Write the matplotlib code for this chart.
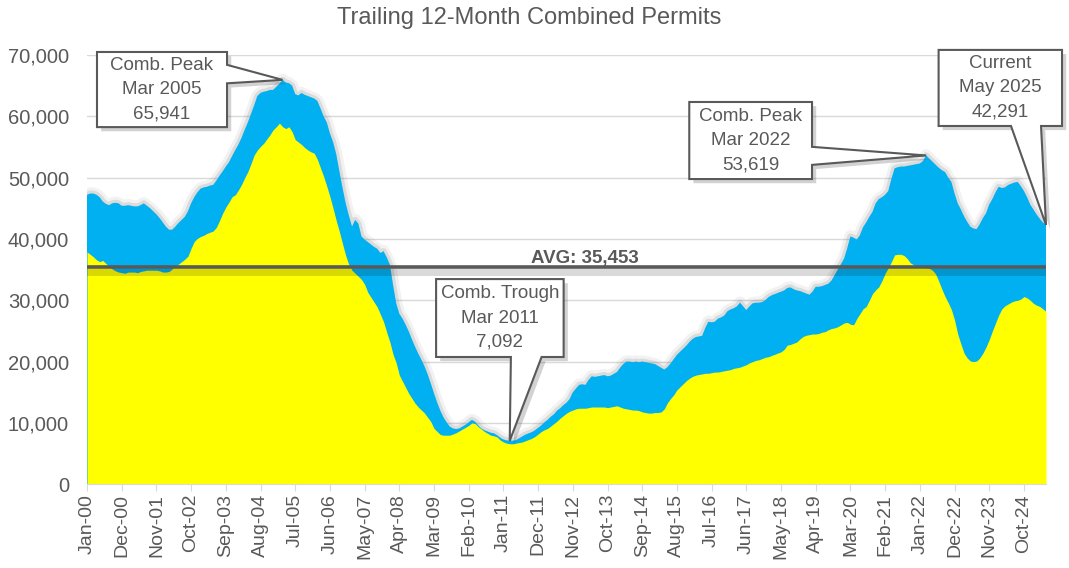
import matplotlib
matplotlib.use('Agg')
import matplotlib.pyplot as plt
import matplotlib.patheffects as pe
from matplotlib.patches import Polygon
from matplotlib.ticker import FuncFormatter
import numpy as np

plt.rcParams['font.family'] = ['Liberation Sans', 'DejaVu Sans']

# Trailing 12-month permits, thousands, monthly Jan-2000 .. May-2025
# combined (blue) permits, one row per year
total_k = [
    47.2, 47.4, 47.4, 47.2, 46.8, 46.1, 45.7, 45.5, 45.8, 45.9, 45.8, 45.4,
    45.4, 45.5, 45.4, 45.3, 45.3, 45.5, 45.8, 45.4, 45.0, 44.5, 44.0, 43.4,
    42.7, 42.0, 41.5, 41.5, 42.0, 42.6, 43.1, 43.6, 44.5, 45.8, 46.8, 47.6,
    48.2, 48.4, 48.5, 48.7, 48.8, 49.5, 50.3, 51.0, 51.8, 52.5, 53.5, 54.5,
    55.4, 56.5, 57.8, 59.0, 60.4, 61.8, 63.3, 63.8, 64.0, 64.1, 64.3, 64.3,
    64.8, 65.3, 65.941, 65.5, 65.4, 65.0, 63.6, 63.4, 63.8, 63.5, 63.3, 63.1,
    62.9, 62.5, 61.3, 60.0, 59.0, 57.2, 55.8, 53.8, 51.0, 48.3, 45.8, 43.8,
    42.0, 43.1, 42.5, 40.4, 39.9, 39.5, 39.1, 38.7, 38.4, 37.7, 38.0, 37.0,
    35.8, 32.5, 29.5, 27.8, 27.0, 26.0, 24.9, 23.6, 22.4, 21.3, 20.3, 19.2,
    17.9, 16.4, 14.8, 13.3, 12.0, 10.9, 10.1, 9.4, 9.1, 9.0, 9.1, 9.4,
    9.7, 10.1, 10.5, 10.2, 9.6, 9.1, 8.8, 8.6, 8.4, 8.3, 8.0, 7.6,
    7.3, 7.15, 7.092, 7.1, 7.2, 7.5, 7.8, 8.1, 8.3, 8.5, 8.8, 9.2,
    9.6, 10.1, 10.5, 11.0, 11.4, 12.0, 12.4, 12.9, 13.3, 13.9, 15.0, 15.6,
    16.2, 16.3, 16.2, 17.0, 17.6, 17.5, 17.6, 17.7, 17.8, 17.6, 17.7, 18.0,
    18.3, 19.0, 19.6, 20.0, 20.0, 19.9, 20.0, 19.9, 20.0, 19.9, 19.8, 19.7,
    19.6, 19.3, 19.0, 18.7, 19.1, 19.7, 20.4, 21.1, 21.6, 22.1, 22.6, 23.2,
    23.7, 24.0, 24.1, 24.2, 25.5, 26.5, 26.4, 26.5, 27.0, 27.2, 27.5, 28.2,
    28.5, 28.7, 29.0, 29.6, 29.0, 28.4, 29.0, 29.5, 29.6, 29.6, 29.7, 30.0,
    30.5, 30.8, 31.0, 31.2, 31.4, 31.6, 32.0, 32.1, 31.8, 31.6, 31.5, 31.3,
    31.1, 30.9, 31.4, 32.2, 32.2, 32.3, 32.5, 32.7, 33.2, 34.1, 35.0, 35.9,
    36.8, 38.5, 40.4, 40.2, 39.9, 40.6, 41.9, 42.7, 43.6, 44.4, 45.8, 46.5,
    46.8, 47.2, 47.8, 49.8, 51.5, 51.7, 51.8, 51.8, 51.9, 52.0, 52.1, 52.2,
    52.3, 52.7, 53.619, 53.1, 52.6, 52.1, 51.6, 51.2, 50.9, 50.0, 49.3, 47.4,
    45.8, 44.8, 43.7, 42.8, 42.0, 41.7, 41.6, 42.4, 43.4, 44.2, 45.6, 46.5,
    47.6, 48.5, 48.3, 48.4, 48.8, 49.0, 49.2, 49.3, 48.6, 47.8, 46.8, 45.6,
    44.8, 44.0, 43.3, 42.7, 42.291,
]

# yellow series drawn in front
single_k = [
    37.9, 37.5, 37.1, 36.6, 36.3, 36.5, 36.0, 35.5, 35.1, 34.8, 34.6, 34.5,
    34.4, 34.6, 34.6, 34.6, 34.5, 34.7, 34.8, 34.9, 34.9, 34.9, 34.9, 34.8,
    34.6, 34.6, 34.7, 35.1, 35.6, 35.9, 36.3, 36.7, 37.2, 38.5, 39.6, 40.1,
    40.4, 40.6, 40.9, 41.1, 41.3, 41.9, 43.0, 44.2, 45.2, 46.0, 46.9, 47.2,
    48.0, 48.9, 50.0, 51.0, 52.3, 53.7, 54.5, 55.1, 55.6, 56.3, 57.0, 57.8,
    58.3, 58.9, 58.3, 58.0, 58.3, 57.5, 56.2, 55.8, 55.4, 54.9, 54.5, 54.2,
    54.0, 53.0, 51.6, 50.2, 48.6, 46.9, 45.0, 43.0, 41.2, 39.2, 37.3, 35.8,
    34.9, 34.4, 33.9, 33.4, 32.6, 31.3, 30.5, 29.7, 28.9, 27.7, 26.5, 24.8,
    23.2, 21.2, 19.8, 17.8, 16.8, 15.8, 14.8, 14.0, 13.2, 12.6, 12.1, 11.6,
    10.9, 10.2, 9.1, 8.6, 8.1, 8.0, 8.0, 8.0, 8.2, 8.4, 8.7, 9.0,
    9.3, 9.6, 10.0, 9.9, 9.4, 9.0, 8.6, 8.3, 8.0, 7.9, 7.7, 7.2,
    6.9, 6.7, 6.6, 6.6, 6.7, 6.8, 6.9, 7.1, 7.3, 7.5, 7.8, 8.2,
    8.6, 8.9, 9.1, 9.5, 9.9, 10.3, 10.8, 11.2, 11.6, 11.9, 12.1, 12.3,
    12.4, 12.4, 12.4, 12.5, 12.6, 12.6, 12.6, 12.6, 12.6, 12.5, 12.6, 12.7,
    12.8, 12.6, 12.4, 12.3, 12.2, 12.1, 12.1, 12.0, 11.8, 11.7, 11.6, 11.6,
    11.7, 11.7, 11.8, 12.3, 13.3, 14.0, 14.6, 15.4, 15.9, 16.4, 16.9, 17.3,
    17.6, 17.8, 17.9, 18.0, 18.1, 18.1, 18.2, 18.3, 18.3, 18.4, 18.5, 18.6,
    18.7, 18.9, 19.0, 19.1, 19.3, 19.5, 19.8, 20.0, 20.2, 20.3, 20.5, 20.7,
    20.8, 21.0, 21.2, 21.4, 21.6, 22.0, 22.7, 22.8, 23.0, 23.2, 23.7, 24.1,
    24.3, 24.4, 24.5, 24.5, 24.6, 24.8, 24.9, 25.2, 25.4, 25.5, 25.7, 26.0,
    26.3, 26.4, 26.1, 26.0, 27.0, 27.8, 28.6, 29.0, 30.0, 31.1, 31.7, 32.2,
    33.2, 34.4, 35.3, 36.3, 37.4, 37.5, 37.5, 37.3, 36.8, 36.1, 35.8, 35.6,
    35.5, 35.4, 35.3, 35.2, 34.9, 34.3, 33.1, 31.8, 30.6, 29.6, 28.5, 26.8,
    24.5, 22.9, 21.4, 20.6, 20.1, 20.0, 20.1, 20.6, 21.4, 22.4, 23.6, 25.0,
    26.3, 27.6, 28.6, 29.1, 29.4, 29.7, 29.9, 30.0, 30.2, 30.6, 30.4, 30.0,
    29.5, 29.2, 29.0, 28.6, 28.2,
]

tick_labels = ['Jan-00', 'Dec-00', 'Nov-01', 'Oct-02', 'Sep-03', 'Aug-04',
               'Jul-05', 'Jun-06', 'May-07', 'Apr-08', 'Mar-09', 'Feb-10',
               'Jan-11', 'Dec-11', 'Nov-12', 'Oct-13', 'Sep-14', 'Aug-15',
               'Jul-16', 'Jun-17', 'May-18', 'Apr-19', 'Mar-20', 'Feb-21',
               'Jan-22', 'Dec-22', 'Nov-23', 'Oct-24']

avg_value = 35453

# callouts: heading, month text, month index
callout_heads = ['Comb. Peak', 'Comb. Trough', 'Comb. Peak', 'Current']
callout_months = ['Mar 2005', 'Mar 2011', 'Mar 2022', 'May 2025']
callout_index = [62, 134, 266, 304]

# box layout in axes fraction: (x0, y0, x1, y1), pointer side, pointer base
callout_box = [(0.0104, 0.832, 0.146, 1.007),
               (0.364, 0.2965, 0.497, 0.478),
               (0.628, 0.711, 0.756, 0.8905),
               (0.888, 0.8346, 1.0167, 1.0118)]
callout_side = ['right', 'bottom', 'right', 'bottom']
callout_base = [(0.977, 0.934), (0.442, 0.474), (0.786, 0.744), (0.9635, 0.9948)]

GREY = '#595959'
LIGHT = '#d9d9d9'

months = np.arange(len(total_k))
total = np.array(total_k) * 1000
single = np.array(single_k) * 1000


def callout_outline(box, side, base, tip):
    x0, y0, x1, y1 = box
    b1, b2 = base
    if side == 'right':
        return [(x0, y1), (x1, y1), (x1, b1), tip, (x1, b2), (x1, y0), (x0, y0)]
    return [(x0, y1), (x1, y1), (x1, y0), (b2, y0), tip, (b1, y0), (x0, y0)]


fig = plt.figure(figsize=(10.69, 5.68), dpi=100)
ax = fig.add_axes([0.0814, 0.1474, 0.8971, 0.7558])
ax.set_xlim(0, len(months) - 1)
ax.set_ylim(0, 70000)

# blue area with a soft halo like the excel shadow
blue = ax.fill_between(months, 0, total, color='#00B0F0', lw=0, zorder=2)
blue.set_path_effects([pe.Stroke(linewidth=9, foreground='#808080', alpha=0.10),
                       pe.Stroke(linewidth=4.5, foreground='#808080', alpha=0.20),
                       pe.Normal()])
ax.fill_between(months, 0, single, color='#FFFF00', lw=0, zorder=3)

# average line
ax.axhline(avg_value, color=GREY, lw=2.6, zorder=5,
           path_effects=[pe.SimpleLineShadow(offset=(0, -3.5), shadow_color='k',
                                             alpha=0.15, linewidth=5),
                         pe.Normal()])
ax.text(0.519, avg_value + 650, f'AVG: {avg_value:,}', transform=ax.get_yaxis_transform(),
        ha='center', va='baseline', fontsize=13.5, fontweight='bold', color=GREY, zorder=6)

data_to_axes = ax.transData + ax.transAxes.inverted()
for head, mon, i, box, side, base in zip(callout_heads, callout_months, callout_index,
                                         callout_box, callout_side, callout_base):
    tip = tuple(data_to_axes.transform((months[i], total[i])))
    shape = Polygon(callout_outline(box, side, base, tip), closed=True, transform=ax.transAxes,
                    fc='white', ec=GREY, lw=1.5, clip_on=False, zorder=7)
    shape.set_path_effects([pe.SimplePatchShadow(offset=(3, -3), alpha=0.25), pe.Normal()])
    ax.add_patch(shape)
    ax.text((box[0] + box[2]) / 2, (box[1] + box[3]) / 2, f'{head}\n{mon}\n{total[i]:,.0f}',
            transform=ax.transAxes, ha='center', va='center', fontsize=13.5,
            color=GREY, linespacing=1.55, zorder=8)

ax.set_yticks(range(0, 70001, 10000))
ax.yaxis.set_major_formatter(FuncFormatter(lambda v, p: f'{v:,.0f}'))
ax.set_xticks(months[::11])
ax.set_xticklabels(tick_labels, rotation=90)

ax.tick_params(axis='x', length=5, color=LIGHT, pad=2, labelcolor=GREY, labelsize=14)
ax.tick_params(axis='y', length=0, pad=13, labelcolor=GREY, labelsize=14.5)
ax.grid(axis='y', color=LIGHT, lw=1)
ax.set_axisbelow(True)
for s in ['top', 'right', 'left']:
    ax.spines[s].set_visible(False)
ax.spines['bottom'].set_color(LIGHT)
ax.spines['bottom'].set_zorder(4)

fig.text(0.495, 0.988, 'Trailing 12-Month Combined Permits', ha='center', va='top',
         fontsize=17, color=GREY)

fig.savefig('out.png', dpi=100)
